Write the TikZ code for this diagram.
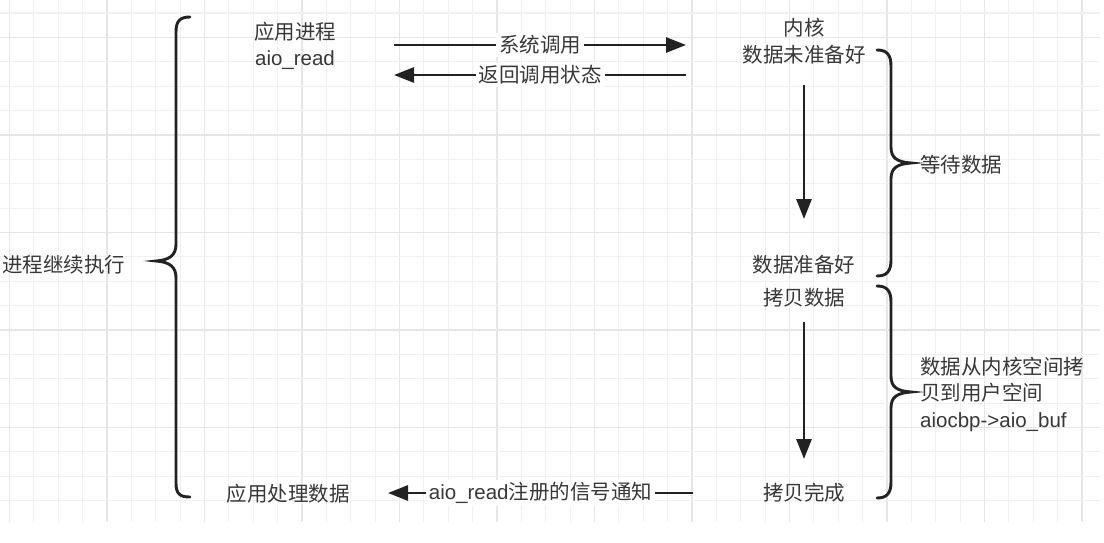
\documentclass[tikz,border=0pt]{standalone}
\usepackage{fontspec}
\setmainfont{Noto Sans CJK SC}
\newfontfamily\lat{Liberation Sans}
\usetikzlibrary{arrows.meta}
\definecolor{txt}{HTML}{383838}
\definecolor{ink}{HTML}{222222}
\definecolor{gminor}{HTML}{F0F0F0}
\definecolor{gmajor}{HTML}{E6E6E6}
\tikzset{
  lbl/.style={text=txt, inner sep=0pt, font=\fontsize{20.5}{26.5}\selectfont},
  onarrow/.style={lbl, fill=white, inner xsep=3pt, inner ysep=2pt},
  arr/.style={line width=2.8pt, draw=ink, -{Triangle[length=20pt,width=15pt]}},
  bracepath/.style={line width=2.9pt, draw=ink, line cap=round},
}
\begin{document}
\begin{tikzpicture}[x=1pt,y=-1pt]
\useasboundingbox (0,0) rectangle (1104,543);
\fill[white] (0,0) rectangle (1104,543);
% grid
\foreach \i in {0,...,44}{
  \pgfmathsetmacro{\xx}{9.5+24.375*\i}
  \pgfmathtruncatemacro{\mm}{mod(\i,4)}
  \ifnum\mm=0
    \draw[gmajor, line width=1.3pt] (\xx,0) -- (\xx,522);
  \else
    \draw[gminor, line width=1.2pt] (\xx,0) -- (\xx,522);
  \fi
}
\foreach \j in {0,...,20}{
  \pgfmathsetmacro{\yy}{13.1+24.375*\j}
  \pgfmathtruncatemacro{\mm}{mod(\j,4)}
  \ifnum\mm=1
    \draw[gmajor, line width=1.3pt] (0,\yy) -- (1100,\yy);
  \else
    \draw[gminor, line width=1.2pt] (0,\yy) -- (1100,\yy);
  \fi
}
% nodes
\node[lbl, align=center] (proc) at (295,46) {应用进程\\{\lat aio\_read}};
\node[lbl, align=center] (kern) at (804,41) {内核\\数据未准备好};
\node[lbl] (ready) at (804,265) {数据准备好};
\node[lbl] (copy) at (804,298) {拷贝数据};
\node[lbl] (done) at (804,493) {拷贝完成};
\node[lbl] (handle) at (288,494) {应用处理数据};
\node[lbl, anchor=west] (cont) at (2,265) {进程继续执行};
\node[lbl, anchor=west] (wait) at (920,165) {等待数据};
\node[lbl, anchor=west, align=left] (copytxt) at (920,394) {数据从内核空间拷\\贝到用户空间\\{\lat aiocbp->aio\_buf}};
% connector end points
\coordinate (s1a) at (394,45); \coordinate (s1b) at (686,45);
\coordinate (s2a) at (686,75); \coordinate (s2b) at (394,75);
\coordinate (s3a) at (693,493); \coordinate (s3b) at (388,493);
\coordinate (d1a) at (804,85); \coordinate (d1b) at (804,219);
\coordinate (d2a) at (804,322); \coordinate (d2b) at (804,459);
% arrows
\draw[arr] (s1a) -- node[onarrow] (l1) {系统调用} (s1b);
\draw[arr] (s2a) -- node[onarrow] (l2) {返回调用状态} (s2b);
\draw[arr] (s3a) -- node[onarrow] (l3) {{\lat aio\_read}注册的信号通知} (s3b);
\draw[arr] (d1a) -- (d1b);
\draw[arr] (d2a) -- (d2b);
% braces
\draw[bracepath] (190,17) .. controls (180,17) and (176,21) .. (176,32)
  -- (176,244) .. controls (176,255) and (170,260) .. (156,261)
  .. controls (170,262) and (176,267) .. (176,278)
  -- (176,483) .. controls (176,494) and (180,497) .. (190,497);
\draw[bracepath] (877,50) .. controls (887,50) and (891,55) .. (891,66)
  -- (891,147) .. controls (891,158) and (897,162) .. (911,163)
  .. controls (897,164) and (891,168) .. (891,179)
  -- (891,260) .. controls (891,271) and (887,276) .. (877,276);
\draw[bracepath] (877,286) .. controls (887,286) and (891,291) .. (891,302)
  -- (891,376) .. controls (891,387) and (897,391) .. (911,392)
  .. controls (897,393) and (891,397) .. (891,408)
  -- (891,482) .. controls (891,493) and (887,498) .. (877,498);
\end{tikzpicture}
\end{document}
